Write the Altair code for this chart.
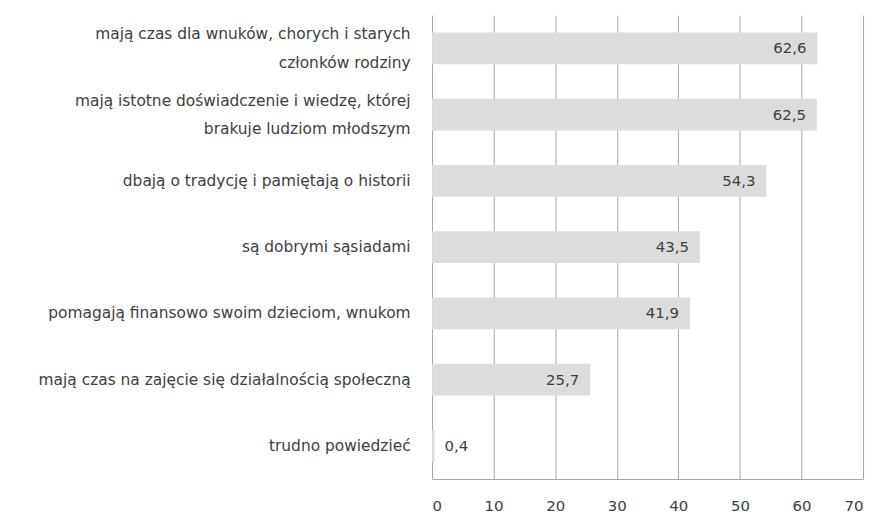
import altair as alt
import pandas as pd

categories = [
    "mają czas dla wnuków, chorych i starych|członków rodziny",
    "mają istotne doświadczenie i wiedzę, której|brakuje ludziom młodszym",
    "dbają o tradycję i pamiętają o historii",
    "są dobrymi sąsiadami",
    "pomagają finansowo swoim dzieciom, wnukom",
    "mają czas na zajęcie się działalnością społeczną",
    "trudno powiedzieć",
]
values = [62.6, 62.5, 54.3, 43.5, 41.9, 25.7, 0.4]
x_ticks = [0, 10, 20, 30, 40, 50, 60, 70]

df = pd.DataFrame({"cat": categories, "value": values})

FONT = "DejaVu Sans"
TXT = "#404040"

base = alt.Chart(df).encode(
    y=alt.Y(
        "cat:N",
        sort=None,
        title=None,
        scale=alt.Scale(paddingInner=0.52, paddingOuter=0.26),
        axis=alt.Axis(
            domain=False,
            ticks=False,
            labelExpr="split(datum.label, '|')",
            labelFont=FONT,
            labelFontSize=15.5,
            labelColor=TXT,
            labelLineHeight=29,
            labelPadding=22,
            labelLimit=600,
            labelOffset=alt.condition(
                "indexof(datum.value, '|') >= 0", alt.value(-14), alt.value(0)
            ),
        ),
    ),
    x=alt.X(
        "value:Q",
        title=None,
        scale=alt.Scale(domain=[0, 70], nice=False),
        axis=alt.Axis(
            values=x_ticks,
            grid=True,
            gridColor="#a6a6a6",
            gridWidth=1,
            domain=True,
            domainColor="#a6a6a6",
            ticks=False,
            labelFont=FONT,
            labelFontSize=15,
            labelColor=TXT,
            labelPadding=20,
        ),
    ),
)

bars = base.mark_bar(color="#dcdcdc")

lbl = base.transform_calculate(
    txt="replace(format(datum.value, '.1f'), '.', ',')"
)

inside = lbl.transform_filter("datum.value >= 5").mark_text(
    align="right", dx=-11, font=FONT, fontSize=15, color=TXT
).encode(text="txt:N")

outside = lbl.transform_filter("datum.value < 5").mark_text(
    align="left", dx=10, font=FONT, fontSize=15, color=TXT
).encode(text="txt:N")

chart = (
    alt.layer(bars, inside, outside)
    .properties(width=433, height=466, padding={"left": 29, "top": 6, "right": 8, "bottom": 2})
    .configure_view(stroke=None)
)

chart.save("out.html", embed_options={"renderer": "svg", "actions": False})
